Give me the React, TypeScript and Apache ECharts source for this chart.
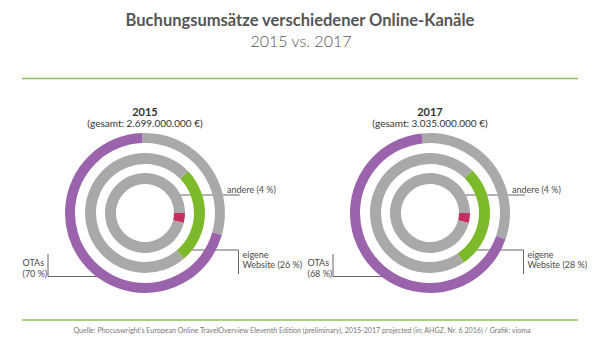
import React, { useEffect, useRef } from 'react';
import * as echarts from 'echarts';

const years = ['2015', '2017'];
const totals = ['2.699.000.000 €', '3.035.000.000 €'];
const otaShare = [70, 68];
const websiteShare = [26, 28];
const otherShare = [4, 4];
const titleText = 'Buchungsumsätze verschiedener Online-Kanäle';
const subtitleText = '2015 vs. 2017';
const sourceText =
  "Quelle: Phocuswright's European Online TravelOverview Eleventh Edition (preliminary), 2015-2017 projected (in: AHGZ, Nr. 6 2016) / Grafik: vioma";

const PURPLE = '#9b63ac';
const GRAY = '#a9a9a9';
const GREEN = '#7dba2b';
const RED = '#c52f5f';
const LINE = '#666666';
const TEXT = '#4a4a4a';
const FONT = 'Lato, "Open Sans", sans-serif';

const centers = [
  [145, 213],
  [430, 213],
];
const outerStart = [92, 96];
const middleStart = [44, 45];
const innerStart = [0, 0];

function ring(id: string, center: number[], radius: number[], startAngle: number, items: { value: number; color: string }[]) {
  return {
    id,
    type: 'pie',
    center,
    radius,
    startAngle,
    clockwise: true,
    silent: true,
    animation: false,
    label: { show: false },
    labelLine: { show: false },
    emphasis: { disabled: true },
    itemStyle: { borderWidth: 0 },
    data: items.map((d) => ({ value: d.value, itemStyle: { color: d.color } })),
  };
}

export default function App() {
  const ref = useRef<HTMLDivElement>(null);
  useEffect(() => {
    document.body.style.margin = '0';
    if (!ref.current) return;
    const chart = echarts.init(ref.current, undefined, { renderer: 'svg' });

    const series: any[] = [];
    const graphic: any[] = [];

    years.forEach((year, i) => {
      const [cx, cy] = centers[i];
      series.push(
        ring('outer' + i, [cx, cy], [70, 80], outerStart[i], [
          { value: 100 - otaShare[i], color: GRAY },
          { value: otaShare[i], color: PURPLE },
        ]),
        ring('middle' + i, [cx, cy], [49, 60], middleStart[i], [
          { value: websiteShare[i], color: GREEN },
          { value: 100 - websiteShare[i], color: GRAY },
        ]),
        ring('inner' + i, [cx, cy], [29, 40], innerStart[i], [
          { value: otherShare[i], color: RED },
          { value: 100 - otherShare[i], color: GRAY },
        ])
      );

      graphic.push(
        {
          type: 'text',
          x: cx,
          y: 111,
          style: { text: year, font: `bold 11px ${FONT}`, fill: '#333', align: 'center', verticalAlign: 'middle' },
        },
        {
          type: 'text',
          x: cx,
          y: 123,
          style: { text: `(gesamt: ${totals[i]})`, font: `10px ${FONT}`, fill: '#333', align: 'center', verticalAlign: 'middle' },
        },
        // andere
        {
          type: 'polyline',
          shape: { points: [[cx + 35.5, cy + 1], [cx + 35.5, cy - 18], [cx + 95, cy - 18]] },
          style: { stroke: LINE, lineWidth: 1, fill: 'none' },
        },
        {
          type: 'text',
          x: cx + 82,
          y: cy - 24,
          style: { text: `andere (${otherShare[i]} %)`, font: `9px ${FONT}`, fill: TEXT, align: 'left', verticalAlign: 'middle' },
        },
        // eigene Website
        {
          type: 'polyline',
          shape: { points: [[cx + 41.5, cy + 37], [cx + 93.5, cy + 37], [cx + 93.5, cy + 61]] },
          style: { stroke: LINE, lineWidth: 1, fill: 'none' },
        },
        {
          type: 'text',
          x: cx + 97.5,
          y: cy + 41.5,
          style: { text: 'eigene', font: `9px ${FONT}`, fill: TEXT, align: 'left', verticalAlign: 'middle' },
        },
        {
          type: 'text',
          x: cx + 97.5,
          y: cy + 51.5,
          style: { text: `Website (${websiteShare[i]} %)`, font: `9px ${FONT}`, fill: TEXT, align: 'left', verticalAlign: 'middle' },
        },
        // OTAs
        {
          type: 'polyline',
          shape: { points: [[cx - 97, cy + 41], [cx - 97, cy + 63.5], [cx - 47, cy + 63.5]] },
          style: { stroke: LINE, lineWidth: 1, fill: 'none' },
        },
        {
          type: 'text',
          x: cx - 122.5,
          y: cy + 49.5,
          style: { text: 'OTAs', font: `9px ${FONT}`, fill: TEXT, align: 'left', verticalAlign: 'middle' },
        },
        {
          type: 'text',
          x: cx - 122.5,
          y: cy + 60.5,
          style: { text: `(${otaShare[i]} %)`, font: `9px ${FONT}`, fill: TEXT, align: 'left', verticalAlign: 'middle' },
        }
      );
    });

    graphic.push(
      {
        type: 'text',
        x: 300,
        y: 20,
        style: { text: titleText, font: `bold 16.5px ${FONT}`, fill: '#555', align: 'center', verticalAlign: 'middle' },
      },
      {
        type: 'text',
        x: 301,
        y: 40,
        style: { text: subtitleText, font: `300 16px ${FONT}`, fill: '#555', align: 'center', verticalAlign: 'middle' },
      },
      {
        type: 'line',
        shape: { x1: 22, y1: 78.5, x2: 578, y2: 78.5 },
        style: { stroke: '#8cc152', lineWidth: 1.5 },
      },
      {
        type: 'line',
        shape: { x1: 22, y1: 320, x2: 578, y2: 320 },
        style: { stroke: '#8cc152', lineWidth: 1.5 },
      },
      {
        type: 'text',
        x: 302,
        y: 330,
        style: { text: sourceText, font: `7.1px ${FONT}`, fill: '#777', align: 'center', verticalAlign: 'middle' },
      }
    );

    chart.setOption({
      animation: false,
      backgroundColor: '#ffffff',
      series,
      graphic,
    });
    return () => chart.dispose();
  }, []);
  return <div ref={ref} style={{ width: 600, height: 355 }} />;
}
